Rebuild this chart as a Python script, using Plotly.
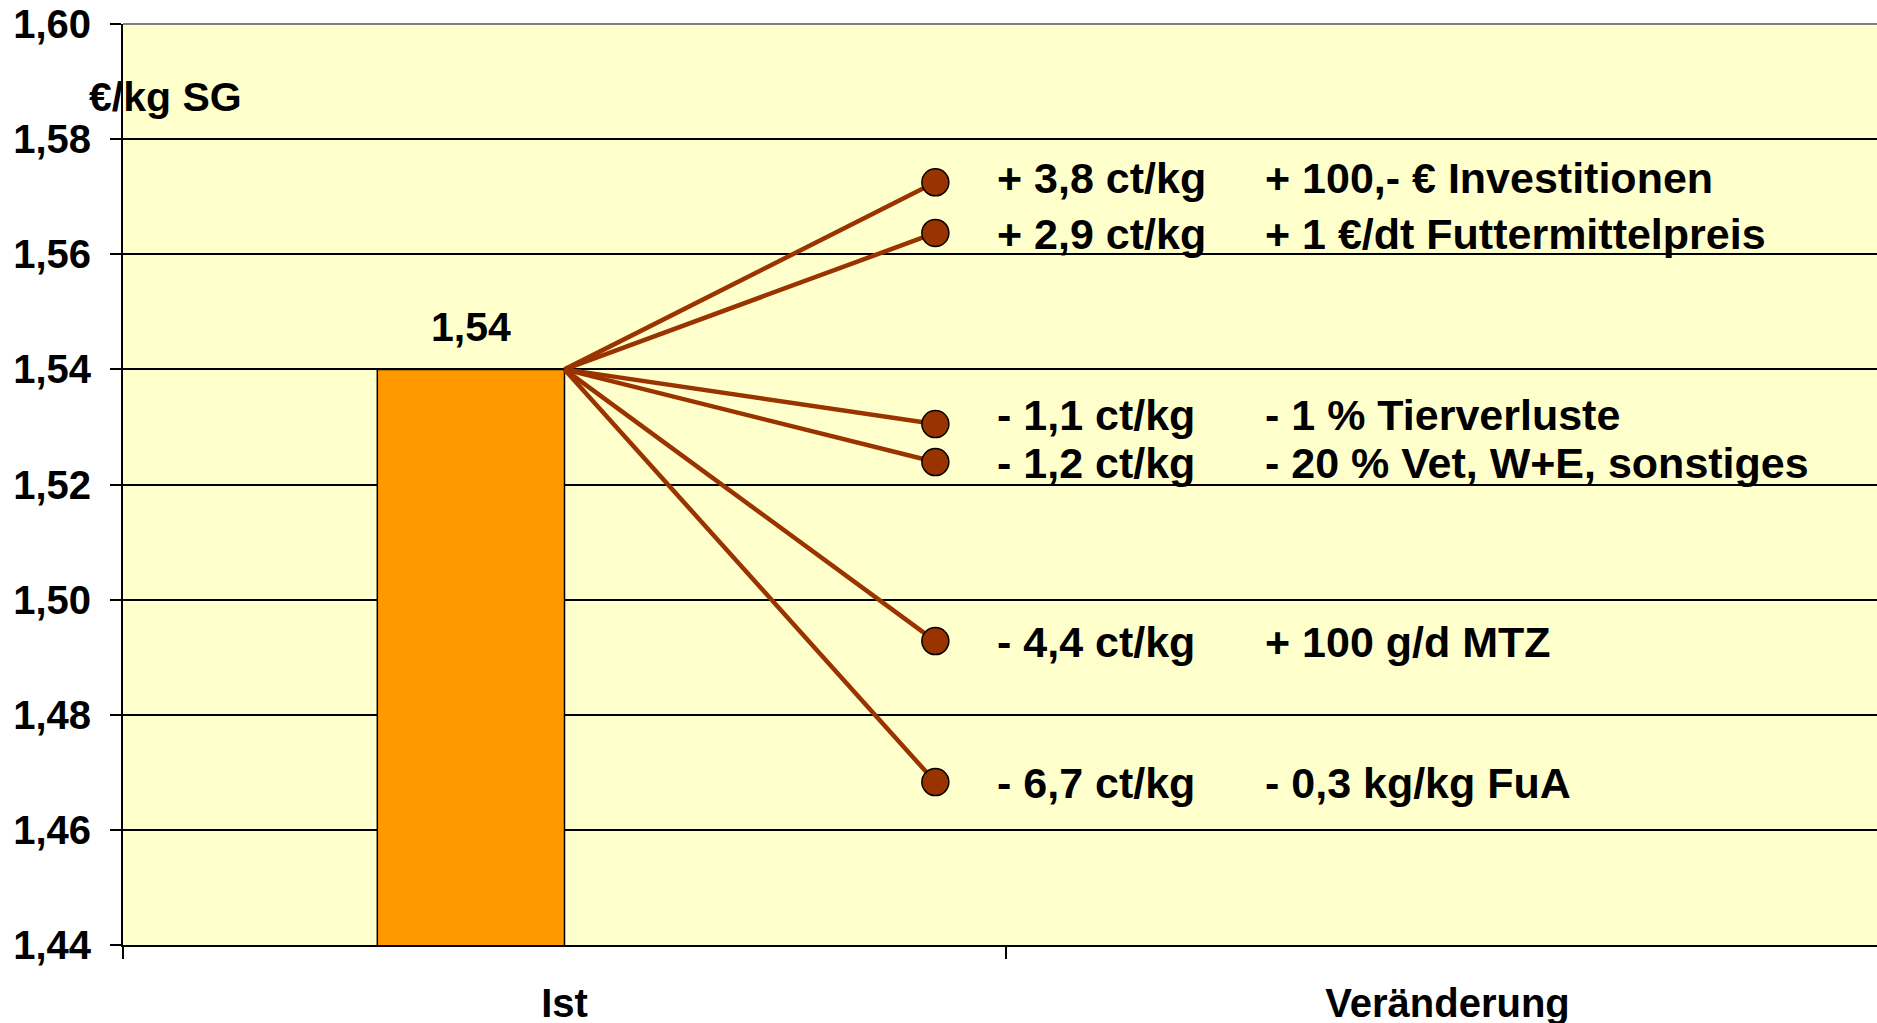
import plotly.graph_objects as go

# ---- data -------------------------------------------------------------
categories = ["Ist", "Veränderung"]
ist_value = 1.54
scenario_values = [1.5725, 1.5637, 1.5305, 1.5239, 1.4928, 1.4683]
cost_effects = ["+ 3,8 ct/kg", "+ 2,9 ct/kg", "- 1,1 ct/kg",
                "- 1,2 ct/kg", "- 4,4 ct/kg", "- 6,7 ct/kg"]
measures = ["+ 100,- € Investitionen", "+ 1 €/dt Futtermittelpreis",
            "- 1 % Tierverluste", "- 20 % Vet, W+E, sonstiges",
            "+ 100 g/d MTZ", "- 0,3 kg/kg FuA"]
y_ticks = [1.44, 1.46, 1.48, 1.50, 1.52, 1.54, 1.56, 1.58, 1.60]
unit_label = "€/kg SG"

# ---- styling ----------------------------------------------------------
FONT = "Liberation Sans, Arial, Helvetica, sans-serif"
BG = "#FFFFCC"
BAR_COLOR = "#FF9900"
LINE_COLOR = "#993300"
BAR_W = 0.212      # bar sits left of the category centre
END_X = 0.42       # x offset of the scenario end points
COL1_X = 0.489     # text column: cost effect
COL2_X = 0.792     # text column: measure
LABEL_NUDGE = [4, -1, 9, -1, -1, -1]   # px, keeps close label rows apart


def de(v):
    return f"{v:.2f}".replace(".", ",")


fig = go.Figure()

# Ist bar
fig.add_trace(go.Bar(
    x=[0], y=[ist_value], width=[BAR_W], offset=-BAR_W,
    marker=dict(color=BAR_COLOR, line=dict(color="black", width=1.5)),
    hoverinfo="skip", showlegend=False,
))

# fan of lines from the bar top to each scenario
for v in scenario_values:
    fig.add_trace(go.Scatter(
        x=[0, END_X], y=[ist_value, v], mode="lines",
        line=dict(color=LINE_COLOR, width=4.5),
        hoverinfo="skip", showlegend=False,
    ))

# scenario end points
fig.add_trace(go.Scatter(
    x=[END_X] * len(scenario_values), y=scenario_values, mode="markers",
    marker=dict(color=LINE_COLOR, size=27, line=dict(color="black", width=1.5)),
    hoverinfo="skip", showlegend=False,
))

label_font = dict(family=FONT, size=41, color="black", weight="bold")
note_font = dict(family=FONT, size=43, color="black", weight="bold")
annotations = [
    dict(x=-BAR_W / 2, y=ist_value, xref="x", yref="y", text=de(ist_value),
         showarrow=False, font=label_font, xanchor="center",
         yanchor="middle", yshift=42),
    dict(x=-0.0205, y=1.5873, xref="paper", yref="y", text=unit_label,
         showarrow=False, font=label_font, xanchor="left", yanchor="middle"),
]
for v, c, m, nudge in zip(scenario_values, cost_effects, measures, LABEL_NUDGE):
    for col_x, text in ((COL1_X, c), (COL2_X, m)):
        annotations.append(dict(x=col_x, y=v, xref="x", yref="y", text=text,
                                showarrow=False, font=note_font,
                                xanchor="left", yanchor="middle",
                                yshift=nudge, borderpad=0))

fig.update_layout(
    width=1877, height=1023,
    margin=dict(l=123, r=0, t=24, b=78, autoexpand=False),
    paper_bgcolor="white", plot_bgcolor=BG,
    separators=",.",
    font=dict(family=FONT, size=41, color="black"),
    annotations=annotations,
    shapes=[dict(type="line", xref="paper", yref="paper", x0=0, x1=1,
                 y0=1, y1=1, line=dict(color="#808080", width=2),
                 layer="above")],
    xaxis=dict(
        range=[-0.5, 1.4864], tickmode="array", tickvals=[0, 1],
        ticktext=categories, ticks="", showgrid=False, zeroline=False,
        showline=True, linecolor="black", linewidth=2, automargin=False,
        tickfont=dict(family=FONT, size=40, color="black", weight="bold"),
        ticklabelstandoff=22,
        minor=dict(tickmode="array", tickvals=[-0.5, 0.5, 1.5],
                   ticks="outside", ticklen=12, tickcolor="black",
                   tickwidth=1.5, showgrid=False),
    ),
    yaxis=dict(
        range=[1.44, 1.60], tickmode="array", tickvals=y_ticks,
        tickformat=".2f", ticks="outside", ticklen=11, tickcolor="black",
        tickwidth=1.5, showgrid=True, gridcolor="black", gridwidth=1.5,
        zeroline=False, showline=True, linecolor="black", linewidth=2,
        automargin=False,
        tickfont=dict(family=FONT, size=40, color="black", weight="bold"),
        ticklabelstandoff=11,
    ),
)

fig.write_html("out.html")
